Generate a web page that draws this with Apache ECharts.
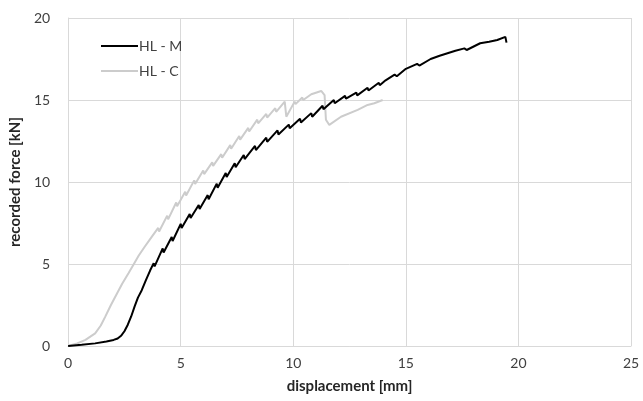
<!DOCTYPE html>
<html>
<head>
<meta charset="utf-8">
<script src="https://cdn.jsdelivr.net/npm/echarts@6/dist/echarts.min.js"></script>
<style>
  html, body { margin: 0; padding: 0; background: #fff; }
  #chart { width: 643px; height: 401px; }
</style>
</head>
<body>
<div id="chart"></div>
<script>
// HL - M (black) : displacement [mm] / force [kN]
const mX = [0, 0.6, 1.2, 1.7, 2.02, 2.2, 2.35, 2.5, 2.65, 2.8, 2.95, 3.1, 3.27, 3.45, 3.64,
  3.8, 3.84, 4.2, 4.24, 4.6, 4.64, 5.0, 5.04, 5.4, 5.44, 5.8, 5.84, 6.2, 6.24, 6.6, 6.64,
  7.0, 7.04, 7.4, 7.44, 7.8, 7.84, 8.3, 8.34, 8.8, 8.84, 9.3, 9.34, 9.8, 9.84, 10.3, 10.34,
  10.8, 10.84, 11.3, 11.34, 11.8, 11.84, 12.3, 12.34, 12.8, 12.84, 13.3, 13.34, 13.8, 13.84,
  14.1, 14.5, 14.6, 15.0, 15.5, 15.6, 16.1, 16.5, 16.85, 17.2, 17.6, 17.7, 18.3, 18.7, 19.06, 19.42, 19.47];
const mY = [0, 0.07, 0.16, 0.28, 0.37, 0.46, 0.62, 0.9, 1.3, 1.8, 2.4, 2.95, 3.4, 4.0, 4.6,
  5.05, 4.85, 5.95, 5.7, 6.65, 6.4, 7.45, 7.2, 8.05, 7.8, 8.6, 8.35, 9.2, 8.95, 9.9, 9.65,
  10.55, 10.3, 11.15, 10.9, 11.65, 11.4, 12.2, 11.95, 12.7, 12.45, 13.15, 12.9, 13.5, 13.28, 13.85, 13.63,
  14.2, 13.98, 14.65, 14.43, 15.0, 14.8, 15.25, 15.08, 15.45, 15.28, 15.75, 15.58, 16.05, 15.9,
  16.2, 16.55, 16.45, 16.9, 17.2, 17.1, 17.5, 17.7, 17.85, 18.0, 18.15, 18.05, 18.46, 18.55, 18.66, 18.85, 18.5];

// HL - C (grey)
const cX = [0, 0.4, 0.77, 1.2, 1.45, 1.65, 1.9, 2.17, 2.4, 2.68, 2.9, 3.13, 3.4, 3.72,
  4.0, 4.04, 4.4, 4.44, 4.8, 4.84, 5.2, 5.24, 5.6, 5.64, 6.0, 6.04, 6.4, 6.44, 6.8, 6.84,
  7.2, 7.24, 7.6, 7.64, 8.0, 8.04, 8.4, 8.44, 8.8, 8.84, 9.2, 9.24, 9.62, 9.69,
  10.06, 10.1, 10.4, 10.44, 10.8, 11.24, 11.39, 11.45, 11.6, 12.12, 12.86, 13.3, 13.6, 13.65, 13.97];
const cY = [0, 0.15, 0.37, 0.77, 1.25, 1.79, 2.5, 3.2, 3.8, 4.43, 4.95, 5.5, 6.05, 6.67,
  7.2, 6.98, 7.95, 7.72, 8.75, 8.52, 9.4, 9.18, 10.1, 9.88, 10.7, 10.48, 11.2, 10.98, 11.7, 11.48,
  12.25, 12.03, 12.8, 12.58, 13.3, 13.08, 13.8, 13.58, 14.15, 13.93, 14.5, 14.28, 14.9, 13.98,
  14.9, 14.75, 15.15, 15.0, 15.35, 15.55, 15.3, 13.8, 13.48, 13.98, 14.4, 14.7, 14.8, 14.75, 15.0];

const legendNames = ["HL - M", "HL - C"];

const mychart = echarts.init(document.getElementById("chart"));

const font = "Lato, 'Open Sans', sans-serif";

let option = {
  animation: false,
  grid: {
    left: 66,
    right: 12,
    top: 18,
    bottom: 55,
  },
  legend: {
    data: legendNames,
    orient: "vertical",
    left: 95,
    top: 34,
    itemWidth: 37,
    itemHeight: 14,
    itemGap: 11,
    itemStyle: { opacity: 0 }, // 只显示线段
    textStyle: {
      fontFamily: font,
      fontSize: 14,
      color: "#404040",
      padding: [0, 0, 0, -4],
    },
  },
  xAxis: {
    type: "value",
    min: 0,
    max: 25,
    interval: 5,
    name: "displacement [mm]",
    nameLocation: "middle",
    nameGap: 33,
    nameTextStyle: {
      fontFamily: font,
      fontSize: 15,
      fontWeight: "bold",
      color: "#262626",
    },
    axisLine: { show: true, lineStyle: { color: "#d9d9d9" } },
    axisTick: { show: false },
    axisLabel: {
      margin: 10,
      fontFamily: font,
      fontSize: 14,
      color: "#404040",
    },
    splitLine: { show: true, lineStyle: { color: "#d9d9d9" } },
  },
  yAxis: {
    type: "value",
    min: 0,
    max: 20,
    interval: 5,
    name: "recorded force [kN]",
    nameLocation: "middle",
    nameGap: 42,
    nameTextStyle: {
      fontFamily: font,
      fontSize: 15,
      fontWeight: "bold",
      color: "#262626",
    },
    axisLine: { show: true, lineStyle: { color: "#d9d9d9" } },
    axisTick: { show: false },
    axisLabel: {
      margin: 18,
      fontFamily: font,
      fontSize: 14,
      color: "#404040",
    },
    splitLine: { show: true, lineStyle: { color: "#d9d9d9" } },
  },
  series: [
    {
      name: legendNames[1],
      type: "line",
      symbol: "none",
      data: cX.map((x, i) => [x, cY[i]]),
      lineStyle: { color: "#cccccc", width: 2 },
      itemStyle: { color: "#cccccc" },
      z: 2,
    },
    {
      name: legendNames[0],
      type: "line",
      symbol: "none",
      data: mX.map((x, i) => [x, mY[i]]),
      lineStyle: { color: "#000000", width: 2 },
      itemStyle: { color: "#000000" },
      z: 3,
    },
  ],
};
option && mychart.setOption(option);
</script>
</body>
</html>
